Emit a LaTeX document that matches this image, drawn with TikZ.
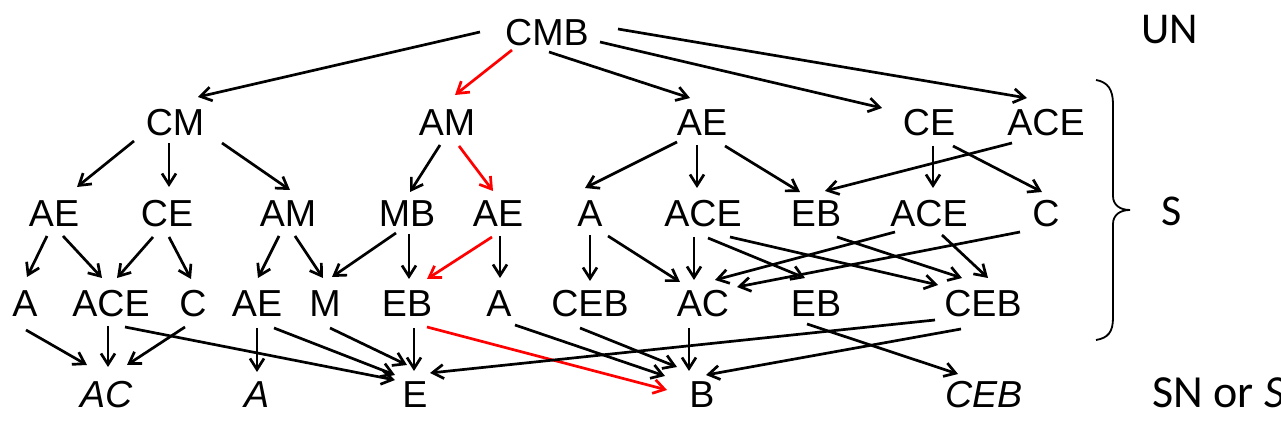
\documentclass[tikz,border=0pt]{standalone}
\usepackage{fontspec}
\setmainfont{Liberation Sans}
\newfontfamily\calfont{Carlito}
\usetikzlibrary{arrows.meta}
\tikzset{
  n/.style={inner sep=0pt, font=\fontsize{18.8}{20}\selectfont},
  ni/.style={n, font=\fontsize{18.8}{20}\selectfont\itshape},
  side/.style={inner sep=0pt, font=\fontsize{22}{24}\selectfont\calfont},
  arr/.style={line width=1.35pt, -{Straight Barb[length=5.5pt,width=7pt]}},
  hl/.style={red},
  bracestyle/.style={line width=0.9pt}
}
\newcommand{\cn}[5][]{\draw[arr,#1] ([shift={(#3)}]#2.center) -- ([shift={(#5)}]#4.center);}
\begin{document}
\begin{tikzpicture}[x=0.5pt,y=-0.5pt]
\useasboundingbox (0,0) rectangle (1281,427);
% row 0
\node[n] (CMB) at (547,33) {CMB};
% row 1
\node[n] (CM) at (175,123) {CM};
\node[n] (AM) at (447,123) {AM};
\node[n] (AEa) at (702,123) {AE};
\node[n] (CEa) at (929,123) {CE};
\node[n] (ACEa) at (1046,123) {ACE};
% row 2
\node[n] (AEb) at (54,214) {AE};
\node[n] (CEb) at (167,214) {CE};
\node[n] (AMb) at (288,214) {AM};
\node[n] (MBb) at (407,214) {MB};
\node[n] (AEc) at (498,214) {AE};
\node[n] (Ab) at (590,214) {A};
\node[n] (ACEb) at (703,214) {ACE};
\node[n] (EBb) at (816,214) {EB};
\node[n] (ACEc) at (929,214) {ACE};
\node[n] (Cb) at (1046,214) {C};
% row 3
\node[n] (A3) at (25,304) {A};
\node[n] (ACE3) at (111,304) {ACE};
\node[n] (C3) at (193,304) {C};
\node[n] (AE3) at (257,304) {AE};
\node[n] (M3) at (325,304) {M};
\node[n] (EB3) at (407,304) {EB};
\node[n] (Ab3) at (499,304) {A};
\node[n] (CEB3) at (590,304) {CEB};
\node[n] (AC3) at (703,304) {AC};
\node[n] (EB3b) at (816,304) {EB};
\node[n] (CEB3b) at (983,304) {CEB};
% row 4
\node[ni] (ACi) at (107,395) {AC};
\node[ni] (Ai) at (257,395) {A};
\node[n] (E4) at (415,395) {E};
\node[n] (B4) at (702,395) {B};
\node[ni] (CEBi) at (984,395) {CEB};
% side labels
\node[side] (UN) at (1170,30) {UN};
\node[side] (S) at (1172,211) {S};
\node[side, anchor=west, font=\fontsize{23}{25}\selectfont\calfont] (SN) at (1152,393) {SN or \textit{S}};
% brace
\draw[bracestyle] (1096,80) .. controls (1108,82) and (1113,90) .. (1113,104) -- (1113,196)
  .. controls (1113,205) and (1120,210) .. (1130,210)
  .. controls (1120,210) and (1113,215) .. (1113,224) -- (1113,318)
  .. controls (1113,332) and (1108,338) .. (1096,340);
% row 0 -> row 1
\cn{CMB}{-67,-1}{CM}{23,-26}
\cn[hl]{CMB}{-35,17}{AM}{8,-28}
\cn{CMB}{2,19}{AEa}{-12,-25}
\cn{CMB}{53,9}{CEa}{-47,-15}
\cn{CMB}{71,-4}{ACEa}{-19,-25}
% row 1 -> row 2
\cn{CM}{-41,18}{AEb}{23,-27}
\cn{CM}{-6,20}{CEb}{2,-27}
\cn{CM}{47,20}{AMb}{2,-24}
\cn{AM}{-7,22}{MBb}{3,-22}
\cn[hl]{AM}{12,23}{AEc}{-5,-23}
\cn{AEa}{-25,19}{Ab}{-5,-26}
\cn{AEa}{-5,22}{ACEb}{-6,-26}
\cn{AEa}{23,23}{EBb}{-16,-22}
\cn{ACEa}{-34,20}{EBb}{9,-23}
\cn{CEa}{4,23}{ACEc}{4,-26}
\cn{CEa}{24,23}{Cb}{-4,-22}
% row 2 -> row 3
\cn{AEb}{-7,22}{A3}{2,-27}
\cn{AEb}{9,22}{ACE3}{-9,-26}
\cn{CEb}{-14,23}{ACE3}{6,-26}
\cn{CEb}{2,23}{C3}{-2,-25}
\cn{AMb}{-9,22}{AE3}{1,-26}
\cn{AMb}{7,22}{M3}{-2,-26}
\cn{MBb}{-11,19}{M3}{7,-27}
\cn{MBb}{2,20}{EB3}{2,-25}
\cn[hl]{AEc}{-6,23}{EB3}{20,-25}
\cn{AEc}{2,22}{Ab3}{1,-26}
\cn{Ab}{0,21}{CEB3}{0,-23}
\cn{Ab}{18,22}{AC3}{-23,-22}
\cn{ACEb}{-9,23}{AC3}{-9,-24}
\cn{ACEb}{5,24}{EB3b}{-11,-26}
\cn{ACEb}{27,23}{CEB3b}{-45,-19}
\cn{EBb}{21,23}{CEB3b}{-21,-26}
\cn{ACEc}{-34,18}{AC3}{12,-24}
\cn{ACEc}{13,21}{CEB3b}{5,-26}
\cn{Cb}{-26,18}{AC3}{34,-17}
% row 3 -> row 4
\cn{A3}{1,26}{ACi}{-20,-30}
\cn{ACE3}{-3,22}{ACi}{1,-28}
\cn{C3}{-8,23}{ACi}{20,-30}
\cn{ACE3}{14,23}{E4}{-20,-15}
\cn{AE3}{0,24}{Ai}{0,-23}
\cn{AE3}{17,24}{E4}{-20,-20}
\cn{M3}{5,24}{E4}{-8,-30}
\cn{EB3}{7,24}{E4}{-1,-24}
\cn[hl]{EB3}{20,23}{B4}{-35,-5}
\cn{Ab3}{16,21}{B4}{-37,-19}
\cn{CEB3}{-10,24}{B4}{-25,-28}
\cn{AC3}{-14,24}{B4}{-13,-24}
\cn{CEB3b}{-48,16}{E4}{15,-22}
\cn{CEB3b}{-22,25}{B4}{4,-20}
\cn{EB3b}{-9,20}{CEBi}{-26,-21}
\end{tikzpicture}
\end{document}
